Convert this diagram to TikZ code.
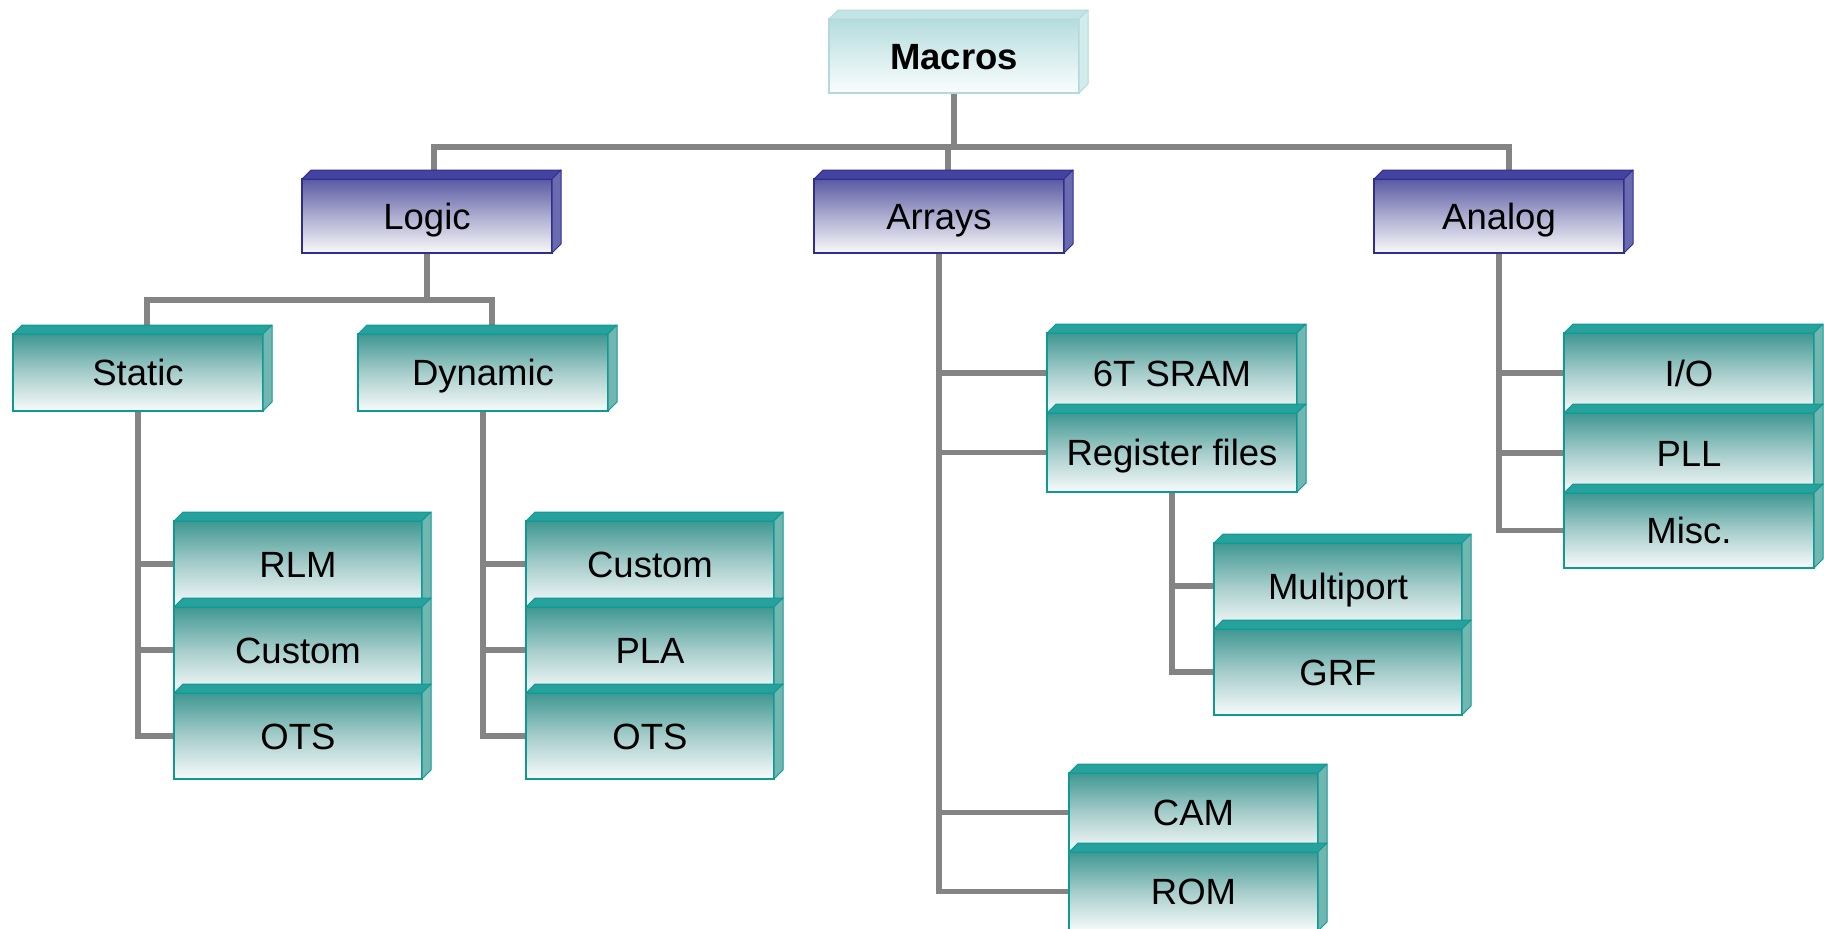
\documentclass[tikz,border=0pt]{standalone}
\usepackage{fontspec}
\setmainfont{Liberation Sans}

% palette
\definecolor{linegray}{HTML}{848484}
\definecolor{tealedge}{HTML}{0E9A94}
\definecolor{tealtopc}{HTML}{3F9792}
\definecolor{tealmidc}{HTML}{A6CDCB}
\definecolor{tealbotc}{HTML}{F8FBFB}
\definecolor{tealcap}{HTML}{27A19C}
\definecolor{tealside}{HTML}{72B6B2}
\definecolor{blueedge}{HTML}{2E2E8F}
\definecolor{bluetopc}{HTML}{5959A3}
\definecolor{bluemidc}{HTML}{ADADD0}
\definecolor{bluebotc}{HTML}{F8F8FA}
\definecolor{bluecap}{HTML}{4444A0}
\definecolor{blueside}{HTML}{6A6AAE}
\definecolor{cyanedge}{HTML}{B2DADC}
\definecolor{cyantopc}{HTML}{B4DCDE}
\definecolor{cyanmidc}{HTML}{D8EDEE}
\definecolor{cyanbotc}{HTML}{FAFDFD}
\definecolor{cyancap}{HTML}{C2E4E5}
\definecolor{cyanside}{HTML}{D2EBEB}

% boxes sit on a layer above the connectors
\pgfdeclarelayer{front}
\pgfsetlayers{main,front}

\tikzset{
  conn/.style={draw=linegray, line width=5.5pt},
  frontface/.style={inner sep=0pt, outer sep=0pt, anchor=north west, line width=2pt,
    font=\fontsize{36.5}{40}\selectfont, text height=26pt, text depth=0pt},
  tealbox/.style={frontface, draw=tealedge, top color=tealtopc, bottom color=tealbotc, middle color=tealmidc},
  tealcapface/.style={fill=tealcap, draw=tealedge, line width=1pt, line join=round},
  tealsideface/.style={fill=tealside, draw=tealedge, line width=1pt, line join=round},
  bluebox/.style={frontface, draw=blueedge, top color=bluetopc, bottom color=bluebotc, middle color=bluemidc},
  bluecapface/.style={fill=bluecap, draw=blueedge, line width=1pt, line join=round},
  bluesideface/.style={fill=blueside, draw=blueedge, line width=1pt, line join=round},
  cyanbox/.style={frontface, draw=cyanedge, top color=cyantopc, bottom color=cyanbotc, middle color=cyanmidc},
  cyancapface/.style={fill=cyancap, draw=cyanedge, line width=1pt, line join=round},
  cyansideface/.style={fill=cyanside, draw=cyanedge, line width=1pt, line join=round},
}

% a box with a bevelled top and right side
% #1 name, #2 colour kind, #3 left, #4 top, #5 width, #6 height, #7 label
\newcommand\cubebox[7]{%
  \node[#2box, minimum width=#5pt, minimum height=#6pt] (#1) at (#3,#4) {#7};
  \filldraw[#2capface] (#1.north west) -- ++(9pt,9pt)
    -- ([shift={(9pt,9pt)}]#1.north east) -- (#1.north east) -- cycle;
  \filldraw[#2sideface] (#1.north east) -- ++(9pt,9pt)
    -- ([shift={(9pt,9pt)}]#1.south east) -- (#1.south east) -- cycle;
}

\begin{document}
\begin{tikzpicture}[x=1pt, y=-1pt]
\useasboundingbox (0,0) rectangle (1824,929);
\clip (0,0) rectangle (1824,929);
\fill[white] (0,0) rectangle (1824,929);

% ---- boxes ----
\begin{pgfonlayer}{front}
\cubebox{macros}{cyan}{829}{19}{250}{74}{\textbf{Macros}}

\cubebox{logic}{blue}{302}{179}{250}{74}{Logic}
\cubebox{arrays}{blue}{814}{179}{250}{74}{Arrays}
\cubebox{analog}{blue}{1374}{179}{250}{74}{Analog}

\cubebox{static}{teal}{13}{334}{250}{77}{Static}
\cubebox{dynamic}{teal}{358}{334}{250}{77}{Dynamic}

\cubebox{rlm}{teal}{174}{521}{248}{86}{RLM}
\cubebox{scustom}{teal}{174}{607}{248}{86}{Custom}
\cubebox{sots}{teal}{174}{693}{248}{86}{OTS}

\cubebox{dcustom}{teal}{526}{521}{248}{86}{Custom}
\cubebox{pla}{teal}{526}{607}{248}{86}{PLA}
\cubebox{dots}{teal}{526}{693}{248}{86}{OTS}

\cubebox{sram}{teal}{1047}{333}{250}{80}{6T SRAM}
\cubebox{regf}{teal}{1047}{413}{250}{79}{Register files}

\cubebox{multiport}{teal}{1214}{543}{248}{86}{Multiport}
\cubebox{grf}{teal}{1214}{629}{248}{86}{GRF}

\cubebox{cam}{teal}{1069}{773}{249}{79}{CAM}
\cubebox{rom}{teal}{1069}{852}{249}{79}{ROM}

\cubebox{io}{teal}{1564}{333}{250}{80}{I/O}
\cubebox{pll}{teal}{1564}{413}{250}{80}{PLL}
\cubebox{misc}{teal}{1564}{493}{250}{75}{Misc.}
\end{pgfonlayer}

% ---- connectors ----
\coordinate (busA) at (954,147);
\coordinate (busB) at (427,300);

\draw[conn] (macros.south) -- (macros.south |- busA);
\draw[conn] ([xshift=7pt]logic.north) |- (busA) -| ([xshift=10pt]analog.north);
\draw[conn] ([xshift=9pt]arrays.north) -- ([xshift=9pt]arrays.north |- busA);

\draw[conn] (logic.south) -- (logic.south |- busB);
\draw[conn] ([xshift=9pt]static.north) |- ([xshift=9pt]dynamic.north |- busB)
  -- ([xshift=9pt]dynamic.north);

\draw[conn] (static.south) |- (sots.west);
\draw[conn] (static.south |- rlm.west) -- (rlm.west);
\draw[conn] (static.south |- scustom.west) -- (scustom.west);

\draw[conn] (dynamic.south) |- (dots.west);
\draw[conn] (dynamic.south |- dcustom.west) -- (dcustom.west);
\draw[conn] (dynamic.south |- pla.west) -- (pla.west);

\draw[conn] (arrays.south) |- (rom.west);
\draw[conn] (arrays.south |- sram.west) -- (sram.west);
\draw[conn] (arrays.south |- regf.west) -- (regf.west);
\draw[conn] (arrays.south |- cam.west) -- (cam.west);

\draw[conn] (regf.south) |- (grf.west);
\draw[conn] (regf.south |- multiport.west) -- (multiport.west);

\draw[conn] (analog.south) |- (misc.west);
\draw[conn] (analog.south |- io.west) -- (io.west);
\draw[conn] (analog.south |- pll.west) -- (pll.west);
\end{tikzpicture}
\end{document}
